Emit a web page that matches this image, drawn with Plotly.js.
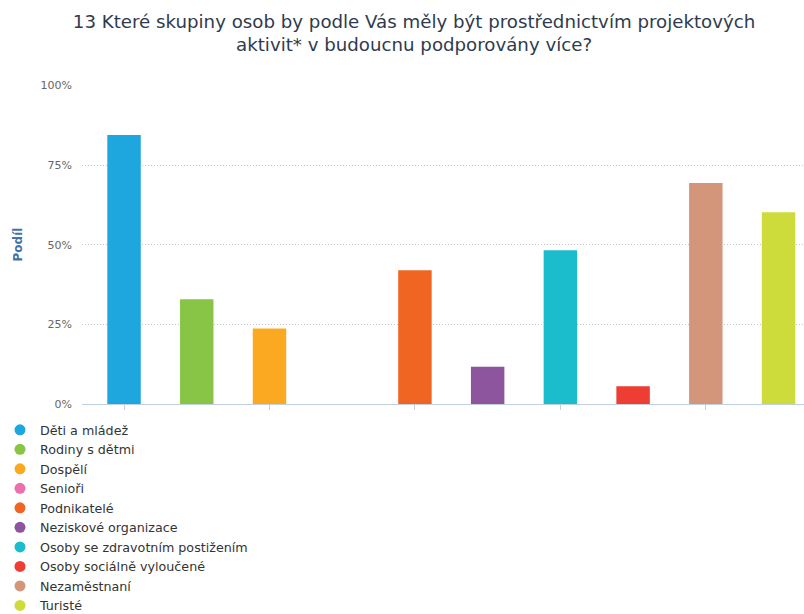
<!DOCTYPE html>
<html>
<head>
<meta charset="utf-8">
<script src="https://cdn.plot.ly/plotly-3.0.1.min.js"></script>
<style>html,body{margin:0;padding:0;background:#fff;}#chart{width:804px;height:614px;}</style>
</head>
<body>
<div id="chart"></div>
<script>
const categories = ["Děti a mládež","Rodiny s dětmi","Dospělí","Senioři","Podnikatelé","Neziskové organizace","Osoby se zdravotním postižením","Osoby sociálně vyloučené","Nezaměstnaní","Turisté"];
const values = [0.845, 0.329, 0.237, 0, 0.42, 0.117, 0.483, 0.056, 0.694, 0.602];
const colors = ["#1EA6DF","#88C547","#FCA922","#EC6FAE","#F16522","#8E559F","#1BBDCD","#EE3D33","#D4967A","#CDDC3A"];
const yTicks = [0, 0.25, 0.5, 0.75, 1];
const xTicks = [0, 2, 4, 6, 8];
const yTitle = 'Podíl';

const traces = [];
categories.forEach((c, i) => {
  traces.push({
    type: 'bar', x: [i], y: [values[i]], name: c, width: 0.46,
    marker: {color: colors[i], line: {width: 0}},
    showlegend: false, hoverinfo: 'name+y'
  });
});
categories.forEach((c, i) => {
  traces.push({
    type: 'scatter', mode: 'markers', x: [null], y: [null], name: c,
    marker: {color: colors[i], size: 11, symbol: 'circle'},
    showlegend: true
  });
});

const layout = {
  width: 804, height: 614,
  paper_bgcolor: '#fff', plot_bgcolor: '#fff',
  margin: {l: 82, r: 0, t: 84.5, b: 209.5, autoexpand: false},
  font: {family: 'DejaVu Sans, sans-serif', color: '#333'},
  title: {
    text: '13 Které skupiny osob by podle Vás měly být prostřednictvím projektových<br>aktivit* v budoucnu podporovány více?',
    font: {family: 'DejaVu Sans, sans-serif', size: 18.2, color: '#2f3b4d'},
    x: 0.515, xanchor: 'center', y: 0.955, yanchor: 'top', yref: 'container'
  },
  barmode: 'overlay',
  xaxis: {
    range: [-0.578, 9.35], showgrid: false, zeroline: false,
    showline: true, linecolor: '#C0D0E0', linewidth: 1,
    ticks: 'outside', tickvals: xTicks, ticklen: 5, tickcolor: '#C0D0E0',
    showticklabels: false, fixedrange: true
  },
  yaxis: {
    range: [0, 1.002], tickvals: yTicks, tickformat: '.0%',
    showgrid: true, gridcolor: '#C4C4C4', griddash: '1px,2px', gridwidth: 1,
    zeroline: false, showline: false, ticks: '',
    ticklabelstandoff: 9,
    tickfont: {size: 11, color: '#666'},
    automargin: false
  },
  annotations: [{
    text: '<b>' + yTitle + '</b>', xref: 'paper', yref: 'paper',
    x: -65 / 722, y: 0.5, xanchor: 'center', yanchor: 'middle',
    textangle: -90, showarrow: false,
    font: {family: 'DejaVu Sans, sans-serif', size: 12, color: '#4572A7'}
  }],
  legend: {
    orientation: 'v', xref: 'container', yref: 'container',
    x: 0, xanchor: 'left', y: 0.324, yanchor: 'top',
    font: {size: 12.7, color: '#333'}, bgcolor: 'rgba(0,0,0,0)',
    itemwidth: 30, tracegroupgap: 0
  },
  showlegend: true
};

Plotly.newPlot('chart', traces, layout, {displayModeBar: false, staticPlot: true});
</script>
</body>
</html>
